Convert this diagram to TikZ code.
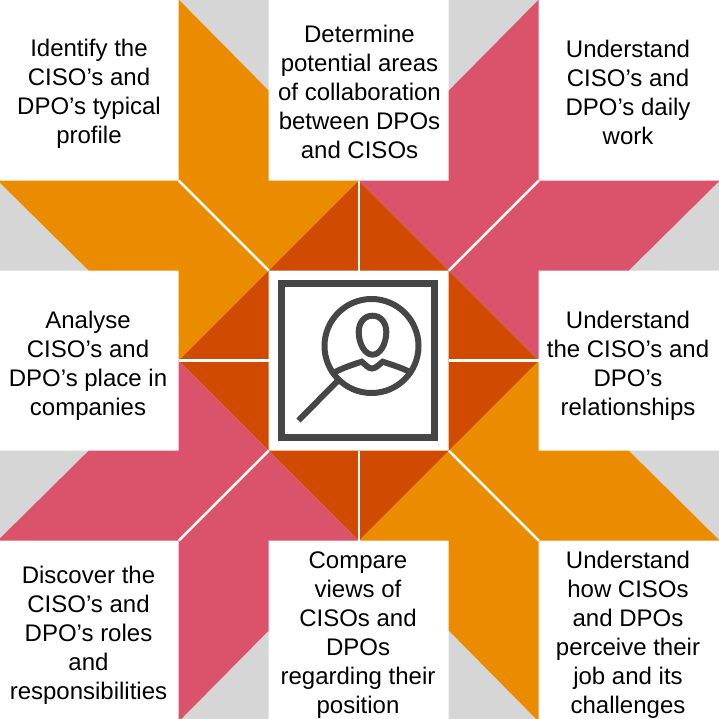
\documentclass[tikz,border=0pt]{standalone}
\usepackage{fontspec}
\setmainfont{Liberation Sans}
\definecolor{orangepart}{HTML}{EB8C00}
\definecolor{pinkpart}{HTML}{DB536A}
\definecolor{darkpart}{HTML}{D04A02}
\definecolor{greypart}{HTML}{D6D6D6}
\definecolor{iconline}{HTML}{464646}
\begin{document}
\begin{tikzpicture}[x=1pt, y=-1pt]
    \tikzset{
      label/.style={align=center, font=\fontsize{24}{29}\selectfont, inner sep=0pt},
      gap/.style={draw=white, line width=2.4pt},
      icon/.style={draw=iconline, line width=6pt}
    }
    \useasboundingbox (0, 0) rectangle (718, 719);

    % one corner of the star, mirrored four times
    \foreach \sx/\sy/\partcolor in {-1/-1/orangepart, 1/-1/pinkpart, -1/1/pinkpart, 1/1/orangepart} {
      \begin{scope}[shift={(358.7, 360.6)}, xscale=\sx, yscale=\sy]
        \fill[greypart] (-180, -361) -- (-90, -361) -- (-90, -270) -- cycle;
        \fill[greypart] (-361, -180) -- (-270, -90) -- (-361, -90) -- cycle;
        \fill[\partcolor] (-180, -361) -- (-90, -270) -- (-90, -180) -- (0, -180)
          -- (-90, -90) -- (-180, -180) -- cycle;
        \fill[\partcolor] (-361, -180) -- (-180, -180) -- (-90, -90) -- (-180, 0)
          -- (-180, -90) -- (-270, -90) -- cycle;
        \fill[darkpart] (0, -180) -- (0, -90) -- (-90, -90) -- cycle;
        \fill[darkpart] (-180, 0) -- (-90, 0) -- (-90, -90) -- cycle;
        \draw[gap] (-180, -180) -- (-90, -90);
        \draw[gap] (0, -180) -- (0, -90);
        \draw[gap] (-180, 0) -- (-90, 0);
      \end{scope}
    }

    % icon
    \draw[draw=iconline, line width=7pt] (281.5, 283.5) rectangle (434.5, 437.5);
    \draw[icon] (371.5, 346) circle (47);
    \draw[icon] (372.5, 315.7) .. controls (381, 315.7) and (386.3, 323) .. (386.3, 332)
      .. controls (386.3, 344) and (380, 354.7) .. (372.5, 354.7)
      .. controls (365, 354.7) and (358.7, 344) .. (358.7, 332)
      .. controls (358.7, 323) and (364, 315.7) .. (372.5, 315.7) -- cycle;
    \draw[icon] (335, 372) .. controls (344, 367.5) and (353, 364.5) .. (361.7, 361.7)
      .. controls (365, 364) and (368, 368.5) .. (372, 368.5)
      .. controls (376, 368.5) and (379.5, 364) .. (382.7, 361.7)
      .. controls (391, 364.5) and (401, 367.5) .. (410, 372);
    \draw[icon] (337, 381.5) -- (298.5, 420.5);

    \node[label] (profile) at (89, 93.5) {Identify the\\CISO’s and\\DPO’s typical\\profile};
    \node[label] (collaboration) at (359.5, 91.5) {Determine\\potential areas\\of collaboration\\between DPOs\\and CISOs};
    \node[label] (dailywork) at (628, 92) {Understand\\CISO’s and\\DPO’s daily\\work};
    \node[label] (place) at (88, 366) {Analyse\\CISO’s and\\DPO’s place in\\companies};
    \node[label] (relationships) at (628, 366) {Understand\\the CISO’s and\\DPO’s\\relationships};
    \node[label] (roles) at (88.5, 635) {Discover the\\CISO’s and\\DPO’s roles\\and\\responsibilities};
    \node[label] (views) at (358, 635) {Compare\\views of\\CISOs and\\DPOs\\regarding their\\position};
    \node[label] (perceive) at (628, 635) {Understand\\how CISOs\\and DPOs\\perceive their\\job and its\\challenges};
\end{tikzpicture}
\end{document}
